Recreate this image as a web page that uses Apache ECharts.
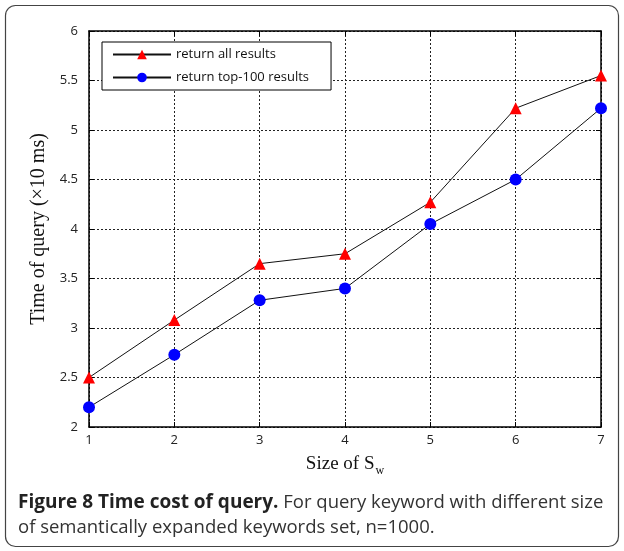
<!DOCTYPE html>
<html><head><meta charset="utf-8">
<script src="https://cdn.jsdelivr.net/npm/echarts@6/dist/echarts.min.js"></script>
<style>html,body{margin:0;padding:0;background:#fff}#c{width:624px;height:551px}</style>
</head><body><div id="c"></div>
<script>
const categories = [1, 2, 3, 4, 5, 6, 7];
const allResults = [2.5, 3.08, 3.65, 3.75, 4.27, 5.22, 5.55];
const top100Results = [2.2, 2.73, 3.28, 3.4, 4.05, 4.5, 5.22];
const yTicks = ['2', '2.5', '3', '3.5', '4', '4.5', '5', '5.5', '6'];

const chart = echarts.init(document.getElementById('c'));
const tickFont = {fontFamily: 'Open Sans', fontSize: 13, color: '#222'};
const gridLine = {show: true, lineStyle: {color: '#222', type: [2, 2], width: 1}};
chart.setOption({
  animation: false,
  grid: {left: 89, right: 23, top: 31, bottom: 124},
  legend: {
    left: 102, top: 42, orient: 'vertical',
    itemWidth: 58, itemHeight: 12, itemGap: 10,
    padding: [6, 22, 6, 10],
    borderColor: '#000', borderWidth: 1, backgroundColor: '#fff',
    textStyle: {fontFamily: 'Open Sans', fontSize: 13, color: '#111'},
    data: ['return all results', 'return top-100 results']
  },
  xAxis: [{
    type: 'value', min: 1, max: 7, interval: 1,
    axisLine: {lineStyle: {color: '#000', width: 1.5}},
    axisTick: {inside: true, length: 5, lineStyle: {color: '#000'}},
    axisLabel: Object.assign({margin: 7, formatter: v => categories.includes(v) ? String(v) : ''}, tickFont),
    splitLine: gridLine,
    name: 'Size of S{w|w}', nameLocation: 'middle', nameGap: 24,
    nameTextStyle: {fontFamily: 'Liberation Serif', fontSize: 19, color: '#111',
      rich: {w: {fontFamily: 'Liberation Serif', fontSize: 12, color: '#111', padding: [14, 0, 0, 1]}}}
  }, {
    type: 'value', min: 1, max: 7, interval: 1, position: 'top',
    axisLine: {lineStyle: {color: '#000', width: 1.5}},
    axisTick: {inside: true, length: 5, lineStyle: {color: '#000'}},
    axisLabel: {show: false}, splitLine: {show: false}
  }],
  yAxis: [{
    type: 'value', min: 2, max: 6, interval: 0.5,
    axisLine: {show: true, lineStyle: {color: '#000', width: 1.5}},
    axisTick: {show: true, inside: true, length: 5, lineStyle: {color: '#000'}},
    axisLabel: Object.assign({margin: 11, formatter: v => yTicks[Math.round((v - 2) * 2)] || ''}, tickFont),
    splitLine: gridLine,
    name: 'Time of query (×10 ms)', nameLocation: 'middle', nameGap: 39, nameRotate: 90,
    nameTextStyle: {fontFamily: 'Liberation Serif', fontSize: 20, color: '#111'}
  }, {
    type: 'value', min: 2, max: 6, interval: 0.5, position: 'right',
    axisLine: {show: true, lineStyle: {color: '#000', width: 1.5}},
    axisTick: {show: true, inside: true, length: 5, lineStyle: {color: '#000'}},
    axisLabel: {show: false}, splitLine: {show: false}
  }],
  series: [{
    name: 'return all results', type: 'line',
    data: categories.map((x, i) => [x, allResults[i]]),
    symbol: 'triangle', symbolSize: 12,
    lineStyle: {color: '#111', width: 1},
    itemStyle: {color: '#ff0000', borderWidth: 0},
    z: 5
  }, {
    name: 'return top-100 results', type: 'line',
    data: categories.map((x, i) => [x, top100Results[i]]),
    symbol: 'circle', symbolSize: 12,
    lineStyle: {color: '#111', width: 1},
    itemStyle: {color: '#0000ff', borderWidth: 0},
    z: 5
  }],
  graphic: [{
    type: 'rect', shape: {x: 5.5, y: 5.5, width: 613, height: 541, r: 10},
    style: {fill: 'none', stroke: '#444', lineWidth: 1.2}, z: -1, silent: true
  }, {
    type: 'text', left: 18, top: 490,
    style: {
      text: '{b|Figure 8 Time cost of query.} For query keyword with different size\nof semantically expanded keywords set, n=1000.',
      font: '18.5px "Open Sans"', fill: '#333', lineHeight: 25,
      rich: {b: {fontFamily: 'Open Sans', fontWeight: 'bold', fontSize: 19, fill: '#222', lineHeight: 25}}
    }
  }]
});
</script></body></html>
